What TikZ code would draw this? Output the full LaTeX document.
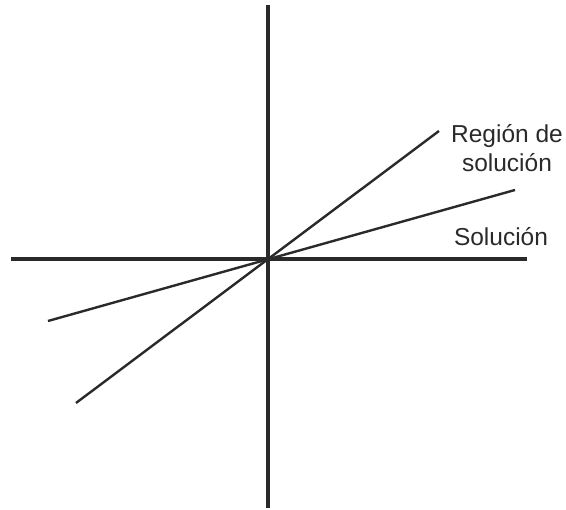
\documentclass[tikz,border=0pt]{standalone}
\usepackage{fontspec}
\setmainfont{Liberation Sans}
\definecolor{ink}{HTML}{2A2A2A}
\begin{document}
\begin{tikzpicture}[x=1pt,y=1pt,
  axis/.style={draw=ink,line width=3.5pt},
  ray/.style={draw=ink,line width=2.4pt},
  lbl/.style={text=ink,font=\fontsize{24.5}{29}\selectfont,align=center,inner sep=0pt}]
\useasboundingbox (0,0) rectangle (566,510);
\coordinate (O) at (268,251);
\coordinate (xl) at (11,251);
\coordinate (xr) at (527,251);
\coordinate (yt) at (268,505);
\coordinate (yb) at (268,2);
\coordinate (s1) at (76,107);
\coordinate (s2) at (439,379);
\coordinate (f1) at (48,189);
\coordinate (f2) at (515,320);
\draw[axis] (xl) -- (xr);
\draw[axis] (yt) -- (yb);
\draw[ray] (s1) -- (s2);
\draw[ray] (f1) -- (f2);
\node[lbl,anchor=base] (r) at (507,338) {Región de\\solución};
\node[lbl,anchor=base] (s) at (501,264) {Solución};
\end{tikzpicture}
\end{document}
